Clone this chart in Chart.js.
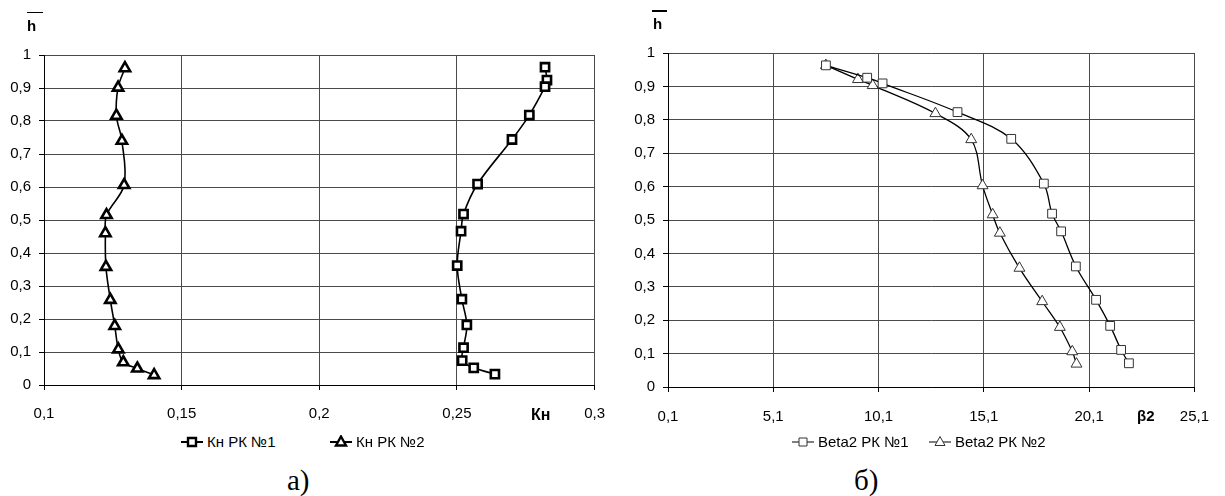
<!DOCTYPE html>
<html><head><meta charset="utf-8">
<script src="https://cdn.jsdelivr.net/npm/chart.js@4.4.1/dist/chart.umd.min.js"></script>
<style>
html,body{margin:0;padding:0;background:#fff}
body{width:1225px;height:496px;overflow:hidden;position:relative;font-family:"Liberation Sans",Arial,sans-serif;color:#000}
canvas.chart{position:absolute;top:0}
#cA{left:0}
#cB{left:612px}
.t{position:absolute;white-space:nowrap;line-height:1}
.bar{position:absolute;height:1.5px;background:#000}
.lg{position:absolute;display:flex;align-items:center;height:15px;font-size:15px;line-height:15px;white-space:nowrap}
.lg canvas{margin-right:4px}
</style>
</head><body>
<canvas id="cA" class="chart" width="620" height="430"></canvas>
<canvas id="cB" class="chart" width="613" height="430"></canvas>

<div class="bar" style="left:27px;top:11.5px;width:16px"></div>
<div class="t" style="left:27px;top:18px;font-weight:bold;font-size:15px">h</div>
<div class="bar" style="left:652px;top:10px;width:15px"></div>
<div class="t" style="left:653px;top:16px;font-weight:bold;font-size:15px">h</div>
<div class="t" style="left:531px;top:407px;font-weight:bold;font-size:16px">Кн</div>
<div class="t" style="left:1137px;top:408px;font-weight:bold;font-size:15px">β2</div>
<div class="t" style="left:287px;top:466px;font-family:'Liberation Serif','Times New Roman',serif;font-size:29px">а)</div>
<div class="t" style="left:854px;top:466px;font-family:'Liberation Serif','Times New Roman',serif;font-size:29px">б)</div>

<script>
// ---------- data ----------
// Chart a): Kн vs relative height h
const seriesNamesA = ['Кн РК №1', 'Кн РК №2'];
const hA1 = [0.963,0.924,0.904,0.818,0.744,0.609,0.518,0.466,0.362,0.260,0.182,0.113,0.074,0.052,0.033];
const kA1 = [0.2820,0.2827,0.2820,0.2763,0.2700,0.2575,0.2524,0.2515,0.2501,0.2518,0.2536,0.2524,0.2519,0.2561,0.2638];
const hA2 = [0.960,0.901,0.816,0.740,0.606,0.515,0.460,0.358,0.258,0.179,0.108,0.069,0.050,0.030];
const kA2 = [0.1294,0.1269,0.1263,0.1283,0.1291,0.1227,0.1223,0.1225,0.1241,0.1257,0.1270,0.1288,0.1339,0.1400];

// Chart б): Beta2 vs relative height h
const seriesNamesB = ['Beta2 РК №1', 'Beta2 РК №2'];
const hB1 = [0.963,0.926,0.909,0.823,0.743,0.609,0.519,0.466,0.361,0.261,0.183,0.111,0.071];
const bB1 = [7.60,9.56,10.29,13.85,16.40,17.95,18.34,18.77,19.47,20.43,21.10,21.62,21.99];
const hB2 = [0.963,0.921,0.903,0.819,0.741,0.603,0.516,0.461,0.356,0.256,0.179,0.106,0.069];
const bB2 = [7.60,9.12,9.82,12.80,14.50,15.04,15.52,15.86,16.79,17.87,18.71,19.30,19.50];

// tick values
const xTicksA = [0.1, 0.15, 0.2, 0.25, 0.3];
const xTicksB = [0.1, 5.1, 10.1, 15.1, 20.1, 25.1];
const yTicks = [0, 0.1, 0.2, 0.3, 0.4, 0.5, 0.6, 0.7, 0.8, 0.9, 1];

// ---------- helpers ----------
const FONT = '"Liberation Sans", Arial, sans-serif';
const fmt = v => String(+(+v).toFixed(2)).replace('.', ',');
const pts = (xs, ys) => xs.map((x, i) => ({x: x, y: ys[i]}));
const setTicks = arr => (s => { s.ticks = arr.map(v => ({value: v})); });

function axis(min, max, ticks, fitKey, fitVal, pad) {
  return {
    type: 'linear', min: min, max: max,
    afterBuildTicks: setTicks(ticks),
    afterFit: s => { s[fitKey] = fitVal; },
    ticks: {callback: v => fmt(v), autoSkip: false, maxRotation: 0, padding: pad,
            color: '#000', font: {family: FONT, size: 15}},
    grid: {color: '#4a4a4a', lineWidth: 1, tickColor: '#000', tickLength: 5, drawTicks: true},
    border: {color: '#000', width: 1}
  };
}

function ds(label, xs, ys, style, bold) {
  return {
    label: label, data: pts(xs, ys), showLine: true, tension: 0.35,
    borderColor: '#000', borderWidth: bold ? 1.6 : 1.3, fill: false,
    pointStyle: style, pointRadius: style === 'rect' ? (bold ? 5.8 : 6.2) : (bold ? 6 : 6.3),
    pointBorderWidth: bold ? 2.6 : 1, pointBackgroundColor: '#fff',
    pointBorderColor: bold ? '#000' : '#333', pointHoverRadius: 6
  };
}

function makeChart(id, datasets, xs, xmin, xmax, yw, xh, xpad, top, right) {
  return new Chart(document.getElementById(id), {
    type: 'scatter',
    data: {datasets: datasets},
    options: {
      responsive: false, animation: false, devicePixelRatio: 1,
      layout: {padding: {top: top, right: right, left: 0, bottom: 0}},
      plugins: {legend: {display: false}, tooltip: {enabled: false}},
      scales: {
        x: axis(xmin, xmax, xs, 'height', xh, xpad),
        y: axis(0, 1, yTicks, 'width', yw, 8)
      }
    }
  });
}

const chartA = makeChart('cA', [
  ds(seriesNamesA[0], kA1, hA1, 'rect', true),
  ds(seriesNamesA[1], kA2, hA2, 'triangle', true)
], xTicksA, 0.1, 0.3, 44, 45, 15, 55, 19);

const chartB = makeChart('cB', [
  ds(seriesNamesB[0], bB1, hB1, 'rect', false),
  ds(seriesNamesB[1], bB2, hB2, 'triangle', false)
], xTicksB, 0.1, 25.1, 56, 43, 16, 53, 20);

// ---------- HTML legends built from the chart datasets ----------
function marker(style, bold) {
  const c = document.createElement('canvas');
  c.width = 22; c.height = 14;
  const g = c.getContext('2d');
  g.strokeStyle = '#000';
  g.lineWidth = bold ? 2 : 1;
  g.beginPath(); g.moveTo(0, 7); g.lineTo(22, 7); g.stroke();
  g.fillStyle = '#fff';
  g.lineWidth = bold ? 2.4 : 1;
  g.strokeStyle = bold ? '#000' : '#333';
  g.beginPath();
  if (style === 'rect') { g.rect(7, 3, 8, 8); }
  else { g.moveTo(11, 1.5); g.lineTo(16, 10.5); g.lineTo(6, 10.5); g.closePath(); }
  g.fill(); g.stroke();
  return c;
}
function legend(chart, lefts, bold) {
  chart.data.datasets.forEach((d, i) => {
    const div = document.createElement('div');
    div.className = 'lg';
    div.style.left = lefts[i] + 'px';
    div.style.top = '434px';
    div.appendChild(marker(d.pointStyle, bold));
    const sp = document.createElement('span');
    sp.textContent = d.label;
    div.appendChild(sp);
    document.body.appendChild(div);
  });
}
legend(chartA, [181, 330], true);
legend(chartB, [792, 929], false);
</script>
</body></html>
